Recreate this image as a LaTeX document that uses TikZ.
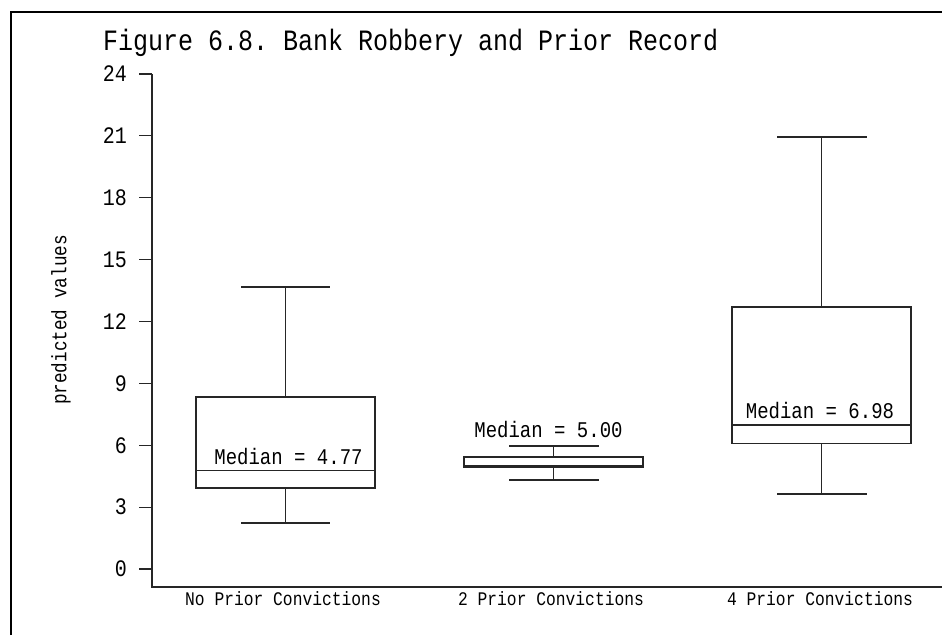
\documentclass[tikz,border=0pt]{standalone}
\usepackage{fontspec}
\setmonofont{Liberation Mono}
% stroke-style lettering is a little taller than the mono face
\newcommand\tallface[1]{\scalebox{1}[1.18]{#1}}
\begin{document}
\begin{tikzpicture}[x=1pt,y=-1pt,
  plotline/.style={draw=black!85,line width=1.2pt},
  frameline/.style={draw=black,line width=2.8pt},
  ticklabel/.style={anchor=east,inner sep=0pt,font=\ttfamily\fontsize{20}{20}\selectfont},
  medlabel/.style={anchor=base,inner sep=0pt,font=\ttfamily\fontsize{19}{19}\selectfont},
  catlabel/.style={anchor=center,inner sep=0pt,font=\ttfamily\fontsize{16.3}{16}\selectfont},
  titlelabel/.style={anchor=base west,inner sep=0pt,font=\ttfamily\fontsize{25}{25}\selectfont},
  axislabel/.style={anchor=center,inner sep=0pt,rotate=90,font=\ttfamily\fontsize{17.7}{18}\selectfont}]
\useasboundingbox (0,0) rectangle (942,635);
\fill[white] (0,0) rectangle (942,635);

% outer frame (left and top edges)
\draw[frameline] (11,635) -- (11,12) -- (942,12);

% title and axis label
\node[titlelabel] (title) at (103,50) {\tallface{Figure 6.8. Bank Robbery and Prior Record}};
\node[axislabel] (ylab) at (61,320) {\tallface{predicted values}};

% axes
\coordinate (ytop) at (152,74);
\coordinate (origin) at (152,587);
\coordinate (xend) at (942,587);
\draw[plotline] (ytop) -- (origin) -- (xend);

% data coordinates: value v sits at pixel row 569 - 20.625 v
\begin{scope}[shift={(0,569)},y=20.625pt]
  % y ticks and labels
  \foreach \v in {0,3,...,24} {
    \draw[plotline] (139,\v) -- (152,\v);
    \node[ticklabel] (tick\v) at (127,\v) {\tallface{\v}};
  }

  % box 1: no prior convictions
  \draw[plotline] (196,3.93) rectangle (375,8.34);
  \draw[plotline] (196,4.77) -- (375,4.77);
  \draw[plotline] (285.5,8.34) -- (285.5,13.67);
  \draw[plotline] (241,13.67) -- (330,13.67);
  \draw[plotline] (285.5,3.93) -- (285.5,2.23);
  \draw[plotline] (241,2.23) -- (330,2.23);
  \node[medlabel] (med1) at (288.5,5.05) {\tallface{Median = 4.77}};

  % box 2: two prior convictions
  \draw[plotline] (464,4.95) rectangle (643,5.43);
  \draw[plotline] (464,5.00) -- (643,5.00);
  \draw[plotline] (553.5,5.43) -- (553.5,5.96);
  \draw[plotline] (509,5.96) -- (599,5.96);
  \draw[plotline] (553.5,4.95) -- (553.5,4.32);
  \draw[plotline] (509,4.32) -- (599,4.32);
  \node[medlabel] (med2) at (548.5,6.40) {\tallface{Median = 5.00}};

  % box 3: four prior convictions
  \draw[plotline] (732,6.10) rectangle (911,12.70);
  \draw[plotline] (732,6.98) -- (911,6.98);
  \draw[plotline] (821.5,12.70) -- (821.5,20.95);
  \draw[plotline] (777,20.95) -- (867,20.95);
  \draw[plotline] (821.5,6.10) -- (821.5,3.64);
  \draw[plotline] (777,3.64) -- (867,3.64);
  \node[medlabel] (med3) at (820,7.32) {\tallface{Median = 6.98}};
\end{scope}

% category labels
\node[catlabel] (cat1) at (283,599) {\tallface{No Prior Convictions}};
\node[catlabel] (cat2) at (551,599) {\tallface{2 Prior Convictions}};
\node[catlabel] (cat3) at (820,599) {\tallface{4 Prior Convictions}};
\end{tikzpicture}
\end{document}
